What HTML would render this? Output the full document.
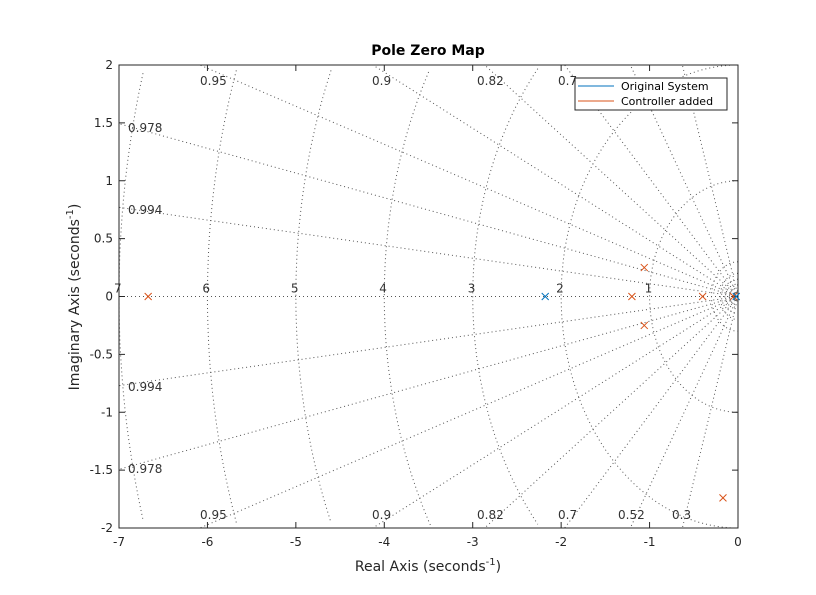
<!DOCTYPE html>
<html><head><meta charset="utf-8"><style>
html,body{margin:0;background:#fff;width:816px;height:595px;overflow:hidden;font-family:"Liberation Sans","DejaVu Sans",sans-serif}
svg{display:block}
</style></head><body>
<svg id="c" width="816" height="595" xmlns="http://www.w3.org/2000/svg" font-family="DejaVu Sans, Liberation Sans, sans-serif"></svg>
<script>
const xTicks=[-7,-6,-5,-4,-3,-2,-1,0];
const yTicks=[2,1.5,1,0.5,0,-0.5,-1,-1.5,-2];
const zetas=[0.3,0.52,0.7,0.82,0.9,0.95,0.978,0.994];
const wns=[1,2,3,4,5,6,7];
const origPolesRe=[-2.18,-0.02];
const origPolesIm=[0,0];
const ctrlPolesRe=[-6.67,-1.2,-1.06,-1.06,-0.4,-0.17,-0.05];
const ctrlPolesIm=[0,0,0.25,-0.25,0,-1.74,0];
const L=119,R=738,T=65,B=528;
const X=v=>L+(v+7)/7*(R-L);
const Y=v=>T+(2-v)/4*(B-T);
const svg=document.getElementById('c');
const NS='http://www.w3.org/2000/svg';
function el(t,a,p){const e=document.createElementNS(NS,t);for(const k in a)e.setAttribute(k,a[k]);(p||svg).appendChild(e);return e;}
function txt(s,a,p){const e=el('text',a,p);e.textContent=s;return e;}
el('rect',{x:L,y:T,width:R-L,height:B-T,fill:'#fff'});
const g=el('g',{});


const gs={stroke:'#555',fill:'none','stroke-width':1,'stroke-dasharray':'1,3'};
zetas.forEach(z=>{
  const sn=Math.sin(Math.acos(z));
  const r=Math.min(7/z,2/sn);
  [1,-1].forEach(s=>{
    const l=el('line',Object.assign({x1:X(0),y1:Y(0),x2:X(-r*z),y2:Y(s*r*sn)},gs),g);
    
    
  });
});
el('line',Object.assign({x1:X(-7),y1:Y(0),x2:X(0),y2:Y(0)},gs),g);
function arc(w,n){
  let d='',first=true;
  for(let i=0;i<=n;i++){const a=Math.PI/2+i*Math.PI/n;const re=w*Math.cos(a),im=w*Math.sin(a);
    if(re<-7||im>2||im<-2){first=true;continue;}
    d+=(first?'M':'L')+X(re).toFixed(1)+','+Y(im).toFixed(1);first=false;}
  return d;
}
wns.forEach(w=>{
  const p=el('path',Object.assign({d:arc(w,180)},gs),g);
  
  
});
[0.05,0.1,0.15,0.2,0.3].forEach(w=>{el('path',Object.assign({d:arc(w,40)},gs),g);});
const lab={fill:'#333','font-size':12};
wns.forEach(w=>{const t=txt(String(w),Object.assign({x:X(-w)-5,y:Y(0)-4},lab));});
const topLab=[['0.95',200],['0.9',372],['0.82',477],['0.7',558]];
topLab.forEach(a=>txt(a[0],Object.assign({x:a[1],y:85},lab)));
const botLab=[['0.95',200],['0.9',372],['0.82',477],['0.7',558],['0.52',618],['0.3',672]];
botLab.forEach(a=>txt(a[0],Object.assign({x:a[1],y:519},lab)));
[['0.978',128,132],['0.994',128,214],['0.994',128,391],['0.978',128,473]].forEach(a=>txt(a[0],Object.assign({x:a[1],y:a[2]},lab)));
el('rect',{x:L,y:T,width:R-L,height:B-T,fill:'none',stroke:'#262626','stroke-width':1});
xTicks.forEach(v=>{
  el('line',{x1:X(v),y1:B,x2:X(v),y2:B-6,stroke:'#262626'});
  el('line',{x1:X(v),y1:T,x2:X(v),y2:T+6,stroke:'#262626'});
  const t=txt(String(v),{x:X(v),y:B+18,'font-size':12,fill:'#262626','text-anchor':'middle'});
  
});
yTicks.forEach(v=>{
  el('line',{x1:L,y1:Y(v),x2:L+6,y2:Y(v),stroke:'#262626'});
  el('line',{x1:R,y1:Y(v),x2:R-6,y2:Y(v),stroke:'#262626'});
  const t=txt(String(v),{x:L-6,y:Y(v)+4,'font-size':12,fill:'#262626','text-anchor':'end'});
  
});
function cross(re,im,c,name){
  const x=X(re),y=Y(im),s=3.5;
  const gg=el('g',{stroke:c,'stroke-width':1});
  
  
  el('line',{x1:x-s,y1:y-s,x2:x+s,y2:y+s},gg);
  el('line',{x1:x-s,y1:y+s,x2:x+s,y2:y-s},gg);
}
ctrlPolesRe.forEach((r,i)=>cross(r,ctrlPolesIm[i],'#d95319','controller-pole'));
origPolesRe.forEach((r,i)=>cross(r,origPolesIm[i],'#0072bd','original-pole'));
let t=txt('Pole Zero Map',{x:428,y:55,'font-size':14,'font-weight':'bold','text-anchor':'middle',fill:'#000'});

t=el('text',{x:428,y:571,'font-size':14,'text-anchor':'middle',fill:'#262626'});
t.innerHTML='Real Axis (seconds<tspan dy="-6" font-size="10">-1</tspan><tspan dy="6">)</tspan>';

t=el('text',{x:0,y:0,'font-size':14,'text-anchor':'middle',fill:'#262626',transform:'translate(79,297) rotate(-90)'});
t.innerHTML='Imaginary Axis (seconds<tspan dy="-6" font-size="10">-1</tspan><tspan dy="6">)</tspan>';

const lg=el('g',{});


el('rect',{x:575,y:78,width:152,height:32,fill:'#fff',stroke:'#262626'},lg);
el('line',{x1:578,y1:86,x2:614,y2:86,stroke:'#0072bd'},lg);
el('line',{x1:578,y1:101,x2:614,y2:101,stroke:'#d95319'},lg);
txt('Original System',{x:621,y:90,'font-size':11,fill:'#000'},lg);
txt('Controller added',{x:621,y:105,'font-size':11,fill:'#000'},lg);
</script>
</body></html>
